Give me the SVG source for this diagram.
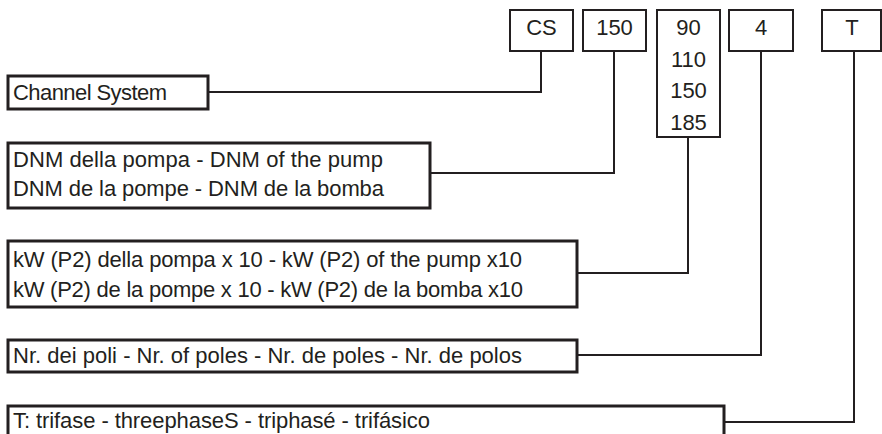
<svg xmlns="http://www.w3.org/2000/svg" width="882" height="434" viewBox="0 0 882 434">
<style>
.lab{fill:none;stroke:#231f20;stroke-width:3}
.code{fill:#fff;stroke:#231f20;stroke-width:2}
.t{font-family:"Liberation Sans",Arial,sans-serif;font-size:22px;fill:#231f20}
.c{text-anchor:middle}
.con{fill:none;stroke:#231f20;stroke-width:2}
</style>
<rect width="882" height="434" fill="#fff"/>
<g id="connectors">
<polyline class="con" points="208,92 541,92 541,51"/>
<polyline class="con" points="430,173 614,173 614,51"/>
<polyline class="con" points="577,273 688,273 688,137"/>
<polyline class="con" points="577,355 761,355 761,51"/>
<polyline class="con" points="724,422 854,422 854,51"/>
</g>
<g id="code-cs"><rect class="code" x="510" y="10" width="63" height="41"/><text class="t c" x="541.5" y="35">CS</text></g>
<g id="code-150"><rect class="code" x="583" y="10" width="63" height="41"/><text class="t c" x="614.5" y="35">150</text></g>
<g id="code-kw"><rect class="code" x="657" y="10" width="63" height="127"/>
<text class="t c" x="688.5" y="35">90</text><text class="t c" x="688.5" y="67">110</text><text class="t c" x="688.5" y="98">150</text><text class="t c" x="688.5" y="130">185</text></g>
<g id="code-4"><rect class="code" x="729" y="10" width="64" height="41"/><text class="t c" x="761" y="35">4</text></g>
<g id="code-t"><rect class="code" x="822" y="10" width="59" height="41"/><text class="t c" x="852" y="35">T</text></g>
<g id="label-cs"><rect class="lab" x="8" y="76" width="200" height="33"/><text class="t" x="13" y="100" textLength="154" lengthAdjust="spacing">Channel System</text></g>
<g id="label-dnm"><rect class="lab" x="8" y="143" width="422" height="65"/><text class="t" x="13" y="167" textLength="370" lengthAdjust="spacing">DNM della pompa - DNM of the pump</text><text class="t" x="13" y="196" textLength="371" lengthAdjust="spacing">DNM de la pompe - DNM de la bomba</text></g>
<g id="label-kw"><rect class="lab" x="8" y="241" width="569" height="66"/><text class="t" x="13" y="267" textLength="509" lengthAdjust="spacing">kW (P2) della pompa x 10 - kW (P2) of the pump x10</text><text class="t" x="13" y="297" textLength="510" lengthAdjust="spacing">kW (P2) de la pompe x 10 - kW (P2) de la bomba x10</text></g>
<g id="label-poles"><rect class="lab" x="8" y="340" width="569" height="32"/><text class="t" x="13" y="363" textLength="509" lengthAdjust="spacing">Nr. dei poli - Nr. of poles - Nr. de poles - Nr. de polos</text></g>
<g id="label-t"><rect class="lab" x="8" y="406" width="716" height="40"/><text class="t" x="13" y="428" textLength="417" lengthAdjust="spacing">T: trifase - threephaseS - triphasé - trifásico</text></g>
</svg>
